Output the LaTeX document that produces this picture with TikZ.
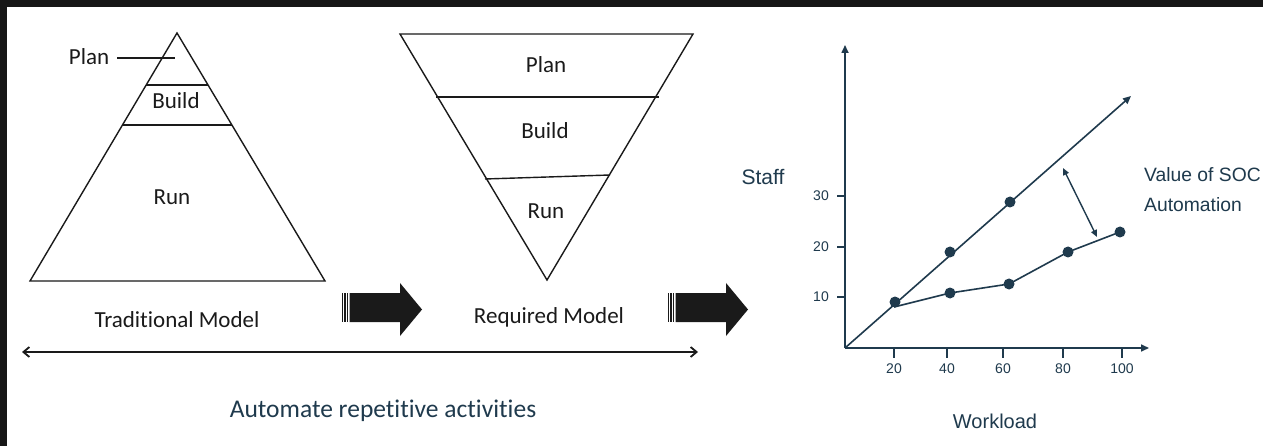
\documentclass[tikz,border=0pt]{standalone}
\usepackage{fontspec}
\setmainfont{Carlito}[Ligatures={NoCommon}]
\newfontfamily\arialf{Liberation Sans}
\usetikzlibrary{arrows.meta,calc}
\definecolor{ink}{HTML}{1A1A1A}
\definecolor{chart}{HTML}{1F3A4D}
\definecolor{framec}{HTML}{171717}
\tikzset{
  tri/.style={draw=ink, line width=1.4pt, line join=miter},
  lbl/.style={text=ink, font=\fontsize{23}{27}\selectfont, inner sep=0pt},
  navy/.style={text=chart, font=\fontsize{25.5}{30}\selectfont, inner sep=0pt},
  clbl/.style={text=chart, font=\arialf\fontsize{20}{30}\selectfont, inner sep=0pt},
  tlbl/.style={text=chart, font=\arialf\fontsize{14}{16}\selectfont, inner sep=0pt},
  cline/.style={draw=chart, line width=1.6pt},
  dot/.style={circle, fill=chart, minimum size=11pt, inner sep=0pt},
  blockarrow/.style={fill=ink},
}
\begin{document}
\begin{tikzpicture}[x=1pt,y=-1pt]
\useasboundingbox (0,0) rectangle (1263,446);
\fill[white] (0,0) rectangle (1263,446);
\fill[framec] (0,0) rectangle (1263,7);
\fill[framec] (0,0) rectangle (7,446);

% ---------- Traditional model
\coordinate (ta) at (177,33);
\coordinate (tl) at (30,281);
\coordinate (tr) at (325,281);
\draw[tri] (ta) -- (tr) -- (tl) -- cycle;
\draw[tri] ($(ta)!0.21!(tl)$) -- ($(ta)!0.21!(tr)$);
\draw[tri] ($(ta)!0.371!(tl)$) -- ($(ta)!0.371!(tr)$);
\node[lbl] (tplan) at (89,57) {Plan};
\coordinate (tplanstart) at (117,58);
\coordinate (tplanend) at (175,58);
\draw[draw=ink, line width=1.2pt] (tplanstart) -- (tplanend);
\node[lbl] (tbuild) at (176,101) {Build};
\node[lbl] (trun) at (172,197) {Run};
\node[lbl] (tmodel) at (177,320) {Traditional Model};

% ---------- Required model
\coordinate (ra) at (547,280);
\coordinate (rl) at (400,34);
\coordinate (rr) at (693,34);
\draw[tri] (rl) -- (rr) -- (ra) -- cycle;
\draw[tri] (436,97) -- (659,97);
\draw[tri] (485,179) -- (610,175);
\node[lbl] (rplan) at (546,65) {Plan};
\node[lbl] (rbuild) at (545,131) {Build};
\node[lbl] (rrun) at (546,211) {Run};
\node[lbl] (rmodel) at (549,317) {Required Model};

% ---------- block arrows
\foreach \ox/\nm in {0/ba1, 326/ba2} {
  \begin{scope}[xshift=\ox pt]
    \fill[ink] (341.5,293) rectangle (342.8,322);
    \fill[ink] (344.2,293) rectangle (345.5,322);
    \fill[ink] (346.8,293) rectangle (348.1,322);
    \fill[blockarrow] (349.5,293) -- (400,293) -- (400,283) -- (422,309.5) -- (400,336) -- (400,322) -- (349.5,322) -- cycle;
  \end{scope}
}

% ---------- double arrow + caption
\coordinate (dl) at (22,352);
\coordinate (dr) at (698,352);
\draw[draw=ink, line width=1.8pt, {Straight Barb[length=6pt,width=10pt]}-{Straight Barb[length=6pt,width=10pt]}] (dl) -- (dr);
\node[navy] (auto) at (383,411) {Automate repetitive activities};

% ---------- chart
\coordinate (o) at (845,348);
\coordinate (ytop) at (845,45);
\coordinate (xend) at (1149,348);
\draw[cline, -{Triangle[length=8pt,width=7pt]}] (o) -- (ytop);
\draw[cline, -{Triangle[length=8pt,width=7pt]}] (o) -- (xend);
\foreach \x/\v in {894/20, 947/40, 1003/60, 1063/80, 1122/100} {
  \draw[cline] (\x,349) -- (\x,358);
  \node[tlbl] at (\x,369) {\v};
}
\foreach \y/\v in {196/30, 247/20, 297/10} {
  \draw[cline] (837,\y) -- (845,\y);
  \node[tlbl, anchor=east] at (829,\y) {\v};
}
\node[clbl, font=\arialf\fontsize{21}{25}\selectfont] (staff) at (763,177) {Staff};
\node[clbl] (work) at (995,421) {Workload};
\node[clbl, font=\arialf\fontsize{19.3}{30}\selectfont, anchor=west, align=left] (value) at (1144,190) {Value of SOC\\Automation};

% upper line
\coordinate (uend) at (1131,96);
\draw[cline, -{Triangle[length=8pt,width=7pt]}] (o) -- (uend);
\node[dot] (u1) at (895,302) {};
\node[dot] (u2) at (950,252) {};
\node[dot] (u3) at (1010,202) {};
% lower line
\node[dot] (l2) at (950,293) {};
\node[dot] (l3) at (1009,284) {};
\node[dot] (l4) at (1068,252) {};
\node[dot] (l5) at (1120,232) {};
\coordinate (l1) at (894,307);
\draw[cline] (l1) -- (l2.center) -- (l3.center) -- (l4.center) -- (l5.center);
% value arrow
\coordinate (va) at (1063,168);
\coordinate (vb) at (1097,237);
\draw[draw=chart, line width=1.4pt, {Triangle[length=7pt,width=6pt]}-{Triangle[length=7pt,width=6pt]}] (va) -- (vb);
\end{tikzpicture}
\end{document}
